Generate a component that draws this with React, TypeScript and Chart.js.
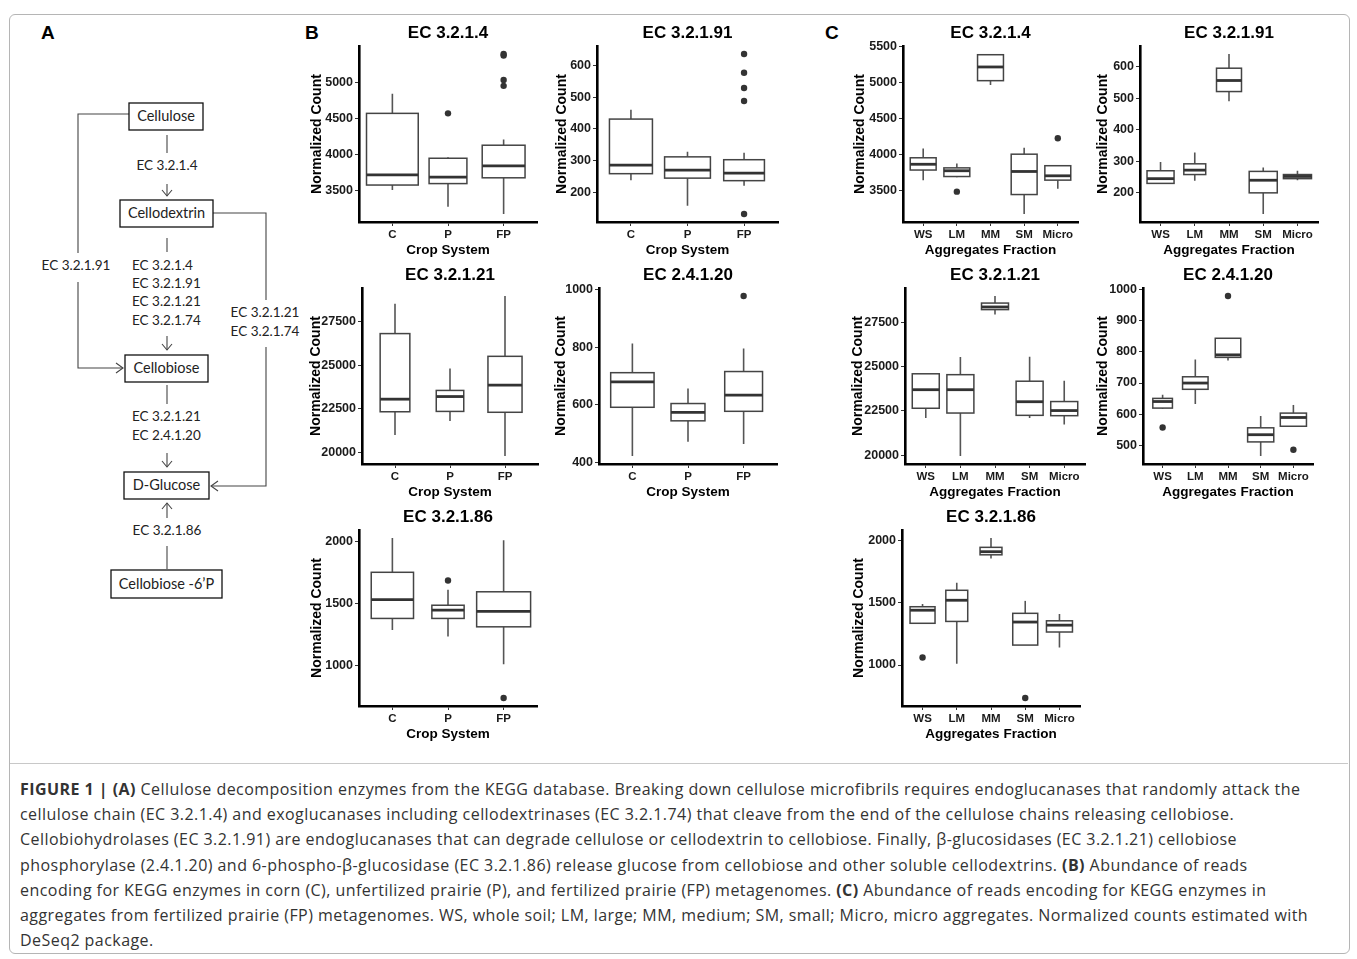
import React, { useEffect, useRef } from "react";
import { Chart, registerables } from "chart.js";
Chart.register(...registerables);

// ---------------- data ----------------
const cropSystems = ["C", "P", "FP"];
const aggFractions = ["WS", "LM", "MM", "SM", "Micro"];

// five-number summaries per category: [lower whisker, Q1, median, Q3, upper whisker]
const bStats3214 = [[3510, 3580, 3720, 4570, 4840], [3280, 3600, 3690, 3950, 3965], [3180, 3680, 3845, 4130, 4210]];
const bOut3214 = [[], [4570], [4950, 5030, 5370, 5390]];
const bTicks3214 = [3500, 4000, 4500, 5000];

const bStats32191 = [[238, 259, 286, 431, 460], [158, 245, 270, 312, 328], [221, 237, 261, 303, 325]];
const bOut32191 = [[], [], [132, 488, 529, 577, 636]];
const bTicks32191 = [200, 300, 400, 500, 600];

const bStats32121 = [[21000, 22330, 23050, 26800, 28500], [21800, 22350, 23200, 23550, 24800], [19800, 22300, 23850, 25500, 28950]];
const bOut32121 = [[], [], []];
const bTicks32121 = [20000, 22500, 25000, 27500];

const bStats24120 = [[423, 592, 680, 712, 813], [472, 545, 574, 605, 657], [465, 578, 634, 716, 796]];
const bOut24120 = [[], [], [978]];
const bTicks24120 = [400, 600, 800, 1000];

const bStats32186 = [[1286, 1380, 1532, 1754, 2032], [1233, 1380, 1447, 1487, 1612], [1008, 1312, 1438, 1596, 2013]];
const bOut32186 = [[], [1687], [735]];
const bTicks32186 = [1000, 1500, 2000];

const cStats3214 = [[3650, 3790, 3870, 3960, 4090], [3690, 3700, 3780, 3820, 3880], [4970, 5030, 5220, 5390, 5400], [3180, 3450, 3770, 4010, 4100], [3530, 3650, 3710, 3850, 3850]];
const cOut3214 = [[], [3490], [], [], [4230]];
const cTicks3214 = [3500, 4000, 4500, 5000, 5500];

const cStats32191 = [[228, 230, 245, 270, 298], [238, 258, 272, 292, 328], [490, 521, 556, 595, 640], [133, 200, 240, 268, 280], [240, 245, 252, 258, 270]];
const cOut32191 = [[], [], [], [], []];
const cTicks32191 = [200, 300, 400, 500, 600];

const cStats32121 = [[22100, 22650, 23700, 24600, 24600], [19950, 22380, 23700, 24550, 25550], [27950, 28230, 28380, 28600, 29000], [22100, 22250, 23020, 24180, 25570], [21730, 22230, 22520, 23030, 24200]];
const cOut32121 = [[], [], [], [], []];
const cTicks32121 = [20000, 22500, 25000, 27500];

const cStats24120 = [[618, 620, 641, 651, 663], [633, 680, 700, 720, 775], [772, 782, 790, 843, 843], [467, 512, 535, 557, 595], [562, 562, 590, 604, 630]];
const cOut24120 = [[558], [], [978], [], [487]];
const cTicks24120 = [500, 600, 700, 800, 900, 1000];

const cStats32186 = [[1330, 1335, 1440, 1468, 1490], [1010, 1350, 1520, 1600, 1660], [1855, 1885, 1910, 1945, 2020], [1160, 1160, 1345, 1415, 1515], [1140, 1265, 1320, 1355, 1410]];
const cOut32186 = [[1060], [], [], [735], []];
const cTicks32186 = [1000, 1500, 2000];

// ---------------- layout ----------------
const FONT = '"Liberation Sans", Arial, Helvetica, sans-serif';
const T = 32, R = 10, B = 42;

type Panel = {
  title: string; cats: string[]; stats: number[][]; outliers: number[][]; ticks: number[];
  xTitle: string; left: number; right: number; top: number; bottom: number; widths: number[]; gap: number;
};

const panels: Panel[] = [
  { title: "EC 3.2.1.4", cats: cropSystems, stats: bStats3214, outliers: bOut3214, ticks: bTicks3214, xTitle: "Crop System", left: 359, right: 537, top: 46, bottom: 222, widths: [0.93, 0.68, 0.77], gap: 42 },
  { title: "EC 3.2.1.91", cats: cropSystems, stats: bStats32191, outliers: bOut32191, ticks: bTicks32191, xTitle: "Crop System", left: 597, right: 778, top: 46, bottom: 222, widths: [0.76, 0.81, 0.72], gap: 35 },
  { title: "EC 3.2.1.21", cats: cropSystems, stats: bStats32121, outliers: bOut32121, ticks: bTicks32121, xTitle: "Crop System", left: 362, right: 538, top: 288, bottom: 464, widths: [0.54, 0.5, 0.62], gap: 46 },
  { title: "EC 2.4.1.20", cats: cropSystems, stats: bStats24120, outliers: bOut24120, ticks: bTicks24120, xTitle: "Crop System", left: 599, right: 777, top: 288, bottom: 464, widths: [0.78, 0.61, 0.68], gap: 38 },
  { title: "EC 3.2.1.86", cats: cropSystems, stats: bStats32186, outliers: bOut32186, ticks: bTicks32186, xTitle: "Crop System", left: 359, right: 537, top: 530, bottom: 706, widths: [0.76, 0.58, 0.97], gap: 42 },
  { title: "EC 3.2.1.4", cats: aggFractions, stats: cStats3214, outliers: cOut3214, ticks: cTicks3214, xTitle: "Aggregates Fraction", left: 903, right: 1078, top: 46, bottom: 222, widths: [0.77, 0.77, 0.77, 0.77, 0.77], gap: 43 },
  { title: "EC 3.2.1.91", cats: aggFractions, stats: cStats32191, outliers: cOut32191, ticks: cTicks32191, xTitle: "Aggregates Fraction", left: 1140, right: 1318, top: 46, bottom: 222, widths: [0.79, 0.64, 0.73, 0.82, 0.82], gap: 37 },
  { title: "EC 3.2.1.21", cats: aggFractions, stats: cStats32121, outliers: cOut32121, ticks: cTicks32121, xTitle: "Aggregates Fraction", left: 905, right: 1085, top: 288, bottom: 464, widths: [0.78, 0.78, 0.78, 0.78, 0.78], gap: 47 },
  { title: "EC 2.4.1.20", cats: aggFractions, stats: cStats24120, outliers: cOut24120, ticks: cTicks24120, xTitle: "Aggregates Fraction", left: 1143, right: 1313, top: 288, bottom: 464, widths: [0.6, 0.78, 0.78, 0.8, 0.8], gap: 40 },
  { title: "EC 3.2.1.86", cats: aggFractions, stats: cStats32186, outliers: cOut32186, ticks: cTicks32186, xTitle: "Aggregates Fraction", left: 902, right: 1080, top: 530, bottom: 706, widths: [0.73, 0.64, 0.64, 0.73, 0.76], gap: 43 },
];

function boxPlugin(p: Panel) {
  return {
    id: "boxes",
    beforeDatasetsDraw(chart: any) {
      const { ctx, scales } = chart;
      const x = scales.x, y = scales.y;
      ctx.save();
      p.stats.forEach((s, i) => {
        const cx = x.getPixelForValue(i + 1);
        const half = x.getPixelForValue(i + 1 + p.widths[i] / 2) - cx;
        const [wl, q1, md, q3, wh] = s.map((v) => y.getPixelForValue(v));
        ctx.lineCap = "butt";
        ctx.strokeStyle = "#555";
        ctx.lineWidth = 1.6;
        ctx.beginPath();
        ctx.moveTo(cx, wh); ctx.lineTo(cx, q3);
        ctx.moveTo(cx, q1); ctx.lineTo(cx, wl);
        ctx.stroke();
        ctx.fillStyle = "#fff";
        ctx.fillRect(cx - half, q3, 2 * half, q1 - q3);
        ctx.strokeStyle = "#444";
        ctx.lineWidth = 1.5;
        ctx.strokeRect(cx - half, q3, 2 * half, q1 - q3);
        ctx.strokeStyle = "#333";
        ctx.lineWidth = 2.8;
        ctx.beginPath();
        ctx.moveTo(cx - half, md); ctx.lineTo(cx + half, md);
        ctx.stroke();
      });
      ctx.restore();
    },
  };
}

function titlePlugin(text: string) {
  return {
    id: "panelTitle",
    afterDraw(chart: any) {
      const { ctx, chartArea } = chart;
      ctx.save();
      ctx.font = `bold 17px ${FONT}`;
      ctx.fillStyle = "#000";
      ctx.textAlign = "center";
      ctx.textBaseline = "middle";
      ctx.fillText(text, (chartArea.left + chartArea.right) / 2, chartArea.top - 12.5);
      ctx.restore();
    },
  };
}

function BoxPanel({ p }: { p: Panel }) {
  const ref = useRef<HTMLCanvasElement>(null);
  const L = p.gap + 20;
  const w = p.right - p.left + L + R;
  const h = p.bottom - p.top + T + B;
  useEffect(() => {
    const n = p.cats.length;
    const all = [...p.stats.flat(), ...p.outliers.flat()];
    const lo = Math.min(...all), hi = Math.max(...all);
    const pad = (hi - lo) * 0.05;
    const pts = p.outliers.flatMap((o, i) => o.map((v) => ({ x: i + 1, y: v })));
    const chart = new Chart(ref.current!, {
      type: "scatter",
      data: {
        datasets: [{
          data: pts,
          pointRadius: 3.2,
          pointHoverRadius: 3.2,
          pointBackgroundColor: "#333",
          pointBorderColor: "#333",
          pointBorderWidth: 0,
        }],
      },
      options: {
        animation: false,
        responsive: false,
        devicePixelRatio: 1,
        events: [],
        layout: { padding: { left: 0, top: T, right: R, bottom: 0 } },
        plugins: { legend: { display: false }, tooltip: { enabled: false }, title: { display: false } },
        scales: {
          x: {
            type: "linear",
            min: 0.4,
            max: n + 0.6,
            afterBuildTicks: (a: any) => { a.ticks = p.cats.map((_, i) => ({ value: i + 1 })); },
            afterFit: (a: any) => { a.height = B; },
            ticks: {
              autoSkip: false, maxRotation: 0, padding: 1.5, color: "#1a1a1a",
              font: { family: FONT, size: 11.5, weight: "bold" },
              callback: (v: any) => p.cats[Math.round(Number(v)) - 1] ?? "",
            },
            grid: { drawOnChartArea: false, drawTicks: true, tickLength: 4, color: "#333", tickWidth: 1 },
            border: { display: true, color: "#000", width: 2.6 },
            title: { display: true, text: p.xTitle, color: "#000", font: { family: FONT, size: 13.5, weight: "bold" }, padding: { top: 0, bottom: 6 } },
          },
          y: {
            type: "linear",
            min: lo - pad,
            max: hi + pad,
            afterBuildTicks: (a: any) => { a.ticks = p.ticks.map((v) => ({ value: v })); },
            afterFit: (a: any) => { a.width = L; },
            ticks: { padding: 2, color: "#1a1a1a", font: { family: FONT, size: 12.5, weight: "bold" }, callback: (v: any) => String(v) },
            grid: { drawOnChartArea: false, drawTicks: true, tickLength: 4, color: "#333", tickWidth: 1 },
            border: { display: true, color: "#000", width: 2.6 },
            title: { display: true, text: "Normalized Count", color: "#000", font: { family: FONT, size: 14, weight: "bold" }, padding: { top: 11.6, bottom: 0 } },
          },
        },
      } as any,
      plugins: [boxPlugin(p), titlePlugin(p.title)],
    });
    return () => chart.destroy();
  }, []);
  return (
    <canvas
      ref={ref}
      width={w}
      height={h}
      style={{ position: "absolute", left: p.left - L, top: p.top - T, width: w, height: h }}
    />
  );
}

const DFONT = "Lato, 'Open Sans', sans-serif";

function PathwayDiagram() {
  const boxes = [
    { x: 129, y: 103, w: 74, h: 27, t: "Cellulose" },
    { x: 120, y: 200, w: 93, h: 27, t: "Cellodextrin" },
    { x: 125, y: 355, w: 83, h: 27, t: "Cellobiose" },
    { x: 124, y: 472, w: 85, h: 27, t: "D-Glucose" },
    { x: 111, y: 570, w: 111, h: 28, t: "Cellobiose -6\u2019P" },
  ];
  const ln = "#444";
  return (
    <svg style={{ position: "absolute", left: 0, top: 0 }} width={320} height={620}>
      <g fill="none" stroke={ln} strokeWidth={1.1}>
        <path d="M129,114 H78 V253" />
        <path d="M78,282 V368 H123" />
        <polyline points="116,363 123,368 116,373" />
        <path d="M213,213 H266 V300" />
        <path d="M266,347 V486 H211" />
        <polyline points="218,481 211,486 218,491" />
        <path d="M167,135 V153" />
        <path d="M167,184 V196" />
        <polyline points="162,190 167,196 172,190" />
        <path d="M167,238 V252" />
        <path d="M167,336 V350" />
        <polyline points="162,344 167,350 172,344" />
        <path d="M167,385 V404" />
        <path d="M167,453 V467" />
        <polyline points="162,461 167,467 172,461" />
        <path d="M167,503 V518" />
        <polyline points="162,509 167,503 172,509" />
        <path d="M167,546 V569" />
      </g>
      {boxes.map((b) => (
        <g key={b.t}>
          <rect x={b.x} y={b.y} width={b.w} height={b.h} fill="#fff" stroke="#111" strokeWidth={1.3} />
          <text x={b.x + b.w / 2} y={b.y + b.h / 2 + 1} textAnchor="middle" dominantBaseline="middle" fontFamily={DFONT} fontSize={14.5} fill="#222">{b.t}</text>
        </g>
      ))}
      <g fontFamily={DFONT} fontSize={13.5} fill="#222">
        <text x={167} y={167} textAnchor="middle" dominantBaseline="middle">EC 3.2.1.4</text>
        <text x={76} y={267} textAnchor="middle" dominantBaseline="middle">EC 3.2.1.91</text>
        <text x={132} y={267} dominantBaseline="middle">EC 3.2.1.4</text>
        <text x={132} y={285} dominantBaseline="middle">EC 3.2.1.91</text>
        <text x={132} y={303} dominantBaseline="middle">EC 3.2.1.21</text>
        <text x={132} y={322} dominantBaseline="middle">EC 3.2.1.74</text>
        <text x={265} y={314} textAnchor="middle" dominantBaseline="middle">EC 3.2.1.21</text>
        <text x={265} y={333} textAnchor="middle" dominantBaseline="middle">EC 3.2.1.74</text>
        <text x={132} y={418} dominantBaseline="middle">EC 3.2.1.21</text>
        <text x={132} y={437} dominantBaseline="middle">EC 2.4.1.20</text>
        <text x={167} y={532} textAnchor="middle" dominantBaseline="middle">EC 3.2.1.86</text>
      </g>
    </svg>
  );
}

const capStyle: React.CSSProperties = { whiteSpace: "nowrap", height: 25.2, lineHeight: "25.2px" };

function Caption() {
  return (
    <div style={{ position: "absolute", left: 20, top: 777, fontFamily: "'Open Sans', sans-serif", fontSize: 16, letterSpacing: "0.45px", color: "#333" }}>
      <div style={capStyle}><b>FIGURE 1 | (A)</b> Cellulose decomposition enzymes from the KEGG database. Breaking down cellulose microfibrils requires endoglucanases that randomly attack the</div>
      <div style={capStyle}>cellulose chain (EC 3.2.1.4) and exoglucanases including cellodextrinases (EC 3.2.1.74) that cleave from the end of the cellulose chains releasing cellobiose.</div>
      <div style={capStyle}>Cellobiohydrolases (EC 3.2.1.91) are endoglucanases that can degrade cellulose or cellodextrin to cellobiose. Finally, β-glucosidases (EC 3.2.1.21) cellobiose</div>
      <div style={capStyle}>phosphorylase (2.4.1.20) and 6-phospho-β-glucosidase (EC 3.2.1.86) release glucose from cellobiose and other soluble cellodextrins. <b>(B)</b> Abundance of reads</div>
      <div style={capStyle}>encoding for KEGG enzymes in corn (C), unfertilized prairie (P), and fertilized prairie (FP) metagenomes. <b>(C)</b> Abundance of reads encoding for KEGG enzymes in</div>
      <div style={capStyle}>aggregates from fertilized prairie (FP) metagenomes. WS, whole soil; LM, large; MM, medium; SM, small; Micro, micro aggregates. Normalized counts estimated with</div>
      <div style={capStyle}>DeSeq2 package.</div>
    </div>
  );
}

export default function App() {
  const lab: React.CSSProperties = { position: "absolute", fontFamily: FONT, fontWeight: "bold", fontSize: 19, lineHeight: "20px", color: "#000" };
  return (
    <div style={{ position: "absolute", left: 0, top: 0, width: 1357, height: 959, background: "#fff", overflow: "hidden" }}>
      <div style={{ position: "absolute", left: 9, top: 14, width: 1339, height: 938, border: "1px solid #b5b5b5", borderRadius: 6 }} />
      <div style={{ position: "absolute", left: 10, top: 763, width: 1338, height: 1, background: "#c8c8c8" }} />
      <div style={{ ...lab, left: 41, top: 23 }}>A</div>
      <div style={{ ...lab, left: 305, top: 23 }}>B</div>
      <div style={{ ...lab, left: 825, top: 23 }}>C</div>
      <PathwayDiagram />
      {panels.map((p, i) => <BoxPanel key={i} p={p} />)}
      <Caption />
    </div>
  );
}
